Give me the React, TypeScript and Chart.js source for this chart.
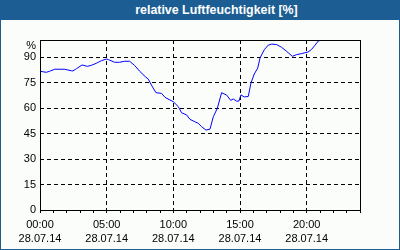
import React, { useEffect, useRef } from "react";
import { Chart, registerables } from "chart.js";

Chart.register(...registerables);

const TITLE = "relative Luftfeuchtigkeit [%]";
const UNIT = "%";
const DATE_LABEL = "28.07.14";

const hours = [
  0, 0.47, 0.72, 1.1, 1.85, 2.35, 2.47, 2.73, 3.15, 3.55, 3.85, 4.22, 4.6, 4.97,
  5.15, 5.6, 5.97, 6.35, 6.72, 7.1, 7.5, 7.9, 8.12, 8.4, 8.7, 9.12, 9.37, 9.75,
  10.0, 10.37, 10.62, 11.0, 11.25, 11.62, 11.87, 12.12, 12.45, 12.75, 13.0, 13.3,
  13.62, 14.0, 14.3, 14.5, 14.75, 14.92, 15.07, 15.32, 15.62, 15.82, 16.07, 16.33,
  16.5, 16.82, 17.12, 17.37, 17.75, 18.12, 18.5, 18.92, 19.25, 19.62, 19.87, 20.1,
  20.37, 20.62, 20.87, 21.1,
];

const humidity = [
  81.6, 81.0, 81.6, 82.8, 82.8, 81.9, 81.8, 83.1, 85.3, 84.5, 85.1, 86.3, 87.8, 88.8,
  88.4, 86.9, 86.9, 87.5, 87.5, 85.0, 81.4, 78.4, 77.0, 72.9, 69.0, 68.6, 66.3, 64.7,
  63.7, 60.8, 57.2, 55.9, 53.3, 51.9, 51.0, 49.0, 47.0, 47.6, 54.9, 59.8,
  69.0, 67.6, 64.5, 65.3, 64.0, 64.1, 67.7, 66.5, 66.8, 74.6, 80.0, 83.5,
  89.4, 94.3, 97.0, 97.6, 97.3, 95.7, 93.3, 90.4, 91.4, 92.0, 92.5, 92.9,
  94.5, 96.9, 99.4, 100,
];

const yTicks = [0, 15, 30, 45, 60, 75, 90];
const minorHours = [0, 1, 2, 3, 4, 5, 6, 7, 8, 9, 10, 11, 12, 13, 14, 15, 16, 17, 18, 19, 20, 21, 22, 23, 24];
const majorHours = [0, 5, 10, 15, 20];
const majorLabels = ["00:00", "05:00", "10:00", "15:00", "20:00"];

const FRAME_BLUE = "#1c5e93";
const PANEL_BG = "#fafdfa";
const FONT = '"Liberation Sans", Arial, sans-serif';

const framePlugin = {
  id: "frame",
  afterDraw(chart: any) {
    const { ctx, chartArea: a } = chart;
    ctx.save();
    ctx.strokeStyle = "#000";
    ctx.lineWidth = 1;
    ctx.setLineDash([]);
    ctx.strokeRect(
      Math.round(a.left) + 0.5,
      Math.round(a.top) + 0.5,
      Math.round(a.right - a.left),
      Math.round(a.bottom - a.top)
    );
    ctx.fillStyle = "#000";
    ctx.font = "11px " + FONT;
    ctx.textAlign = "right";
    ctx.textBaseline = "middle";
    ctx.fillText(UNIT, a.left - 4, a.top + 6);
    ctx.restore();
  },
};

export default function App() {
  const ref = useRef<HTMLCanvasElement | null>(null);

  useEffect(() => {
    if (!ref.current) return;
    const chart = new Chart(ref.current, {
      type: "line",
      data: {
        datasets: [
          {
            data: hours.map((h, i) => ({ x: h, y: humidity[i] })),
            borderColor: "#0000ff",
            borderWidth: 1,
            pointRadius: 0,
            tension: 0,
            fill: false,
          },
        ],
      },
      options: {
        animation: false,
        responsive: false,
        devicePixelRatio: 1,
        layout: { padding: { top: 40, right: 40, left: 0, bottom: 0 } },
        plugins: {
          legend: { display: false },
          tooltip: { enabled: false },
          title: { display: false },
        },
        scales: {
          x: {
            type: "linear",
            min: 0,
            max: 24,
            afterBuildTicks: (scale: any) => {
              scale.ticks = minorHours.map((v) => ({ value: v }));
            },
            afterFit: (scale: any) => {
              scale.height = 40;
            },
            grid: {
              color: (ctx: any) =>
                ctx.tick && majorHours.includes(ctx.tick.value) ? "#000" : "rgba(0,0,0,0)",
              lineWidth: 1,
              drawTicks: true,
              tickLength: 3,
              tickColor: "#000",
              tickWidth: 1,
            },
            border: { display: false, dash: [4, 3] },
            ticks: {
              autoSkip: false,
              maxRotation: 0,
              minRotation: 0,
              padding: 5,
              color: "#000",
              font: { family: FONT, size: 11, lineHeight: 1.25 },
              callback: (value: any) => {
                const idx = majorHours.indexOf(Number(value));
                return idx >= 0 ? [majorLabels[idx], DATE_LABEL] : "";
              },
            },
          },
          y: {
            type: "linear",
            min: 0,
            max: 100,
            afterBuildTicks: (scale: any) => {
              scale.ticks = yTicks.map((v) => ({ value: v }));
            },
            afterFit: (scale: any) => {
              scale.width = 40;
            },
            grid: {
              color: "#000",
              lineWidth: 1,
              drawTicks: false,
            },
            border: { display: false, dash: [4, 3] },
            ticks: {
              padding: 4,
              color: "#000",
              font: { family: FONT, size: 11 },
              callback: (value: any) => String(value),
            },
          },
        },
      },
      plugins: [framePlugin],
    });
    return () => chart.destroy();
  }, []);

  return (
    <div
      style={{
        position: "absolute",
        left: 0,
        top: 0,
        width: 400,
        height: 250,
        background: FRAME_BLUE,
        overflow: "hidden",
      }}
    >
      <div
        style={{
          position: "absolute",
          left: 1,
          top: 20,
          width: 398,
          height: 229,
          background: PANEL_BG,
        }}
      />
      <div
        style={{
          position: "absolute",
          left: 33,
          top: 0,
          width: 367,
          height: 20,
          lineHeight: "20px",
          textAlign: "center",
          color: "#fff",
          fontFamily: FONT,
          fontWeight: "bold",
          fontSize: "12.4px",
          whiteSpace: "nowrap",
        }}
      >
        {TITLE}
      </div>
      <canvas
        ref={ref}
        width={400}
        height={250}
        style={{ position: "absolute", left: 0, top: 0, width: 400, height: 250 }}
      />
    </div>
  );
}
